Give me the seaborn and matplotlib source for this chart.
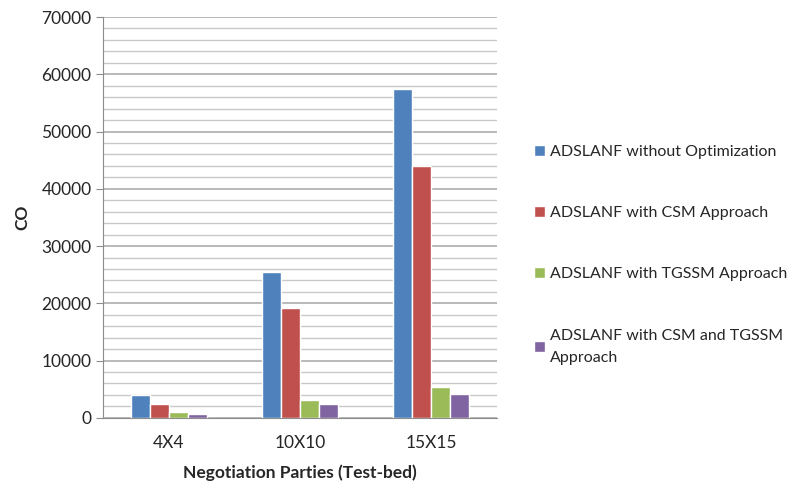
import numpy as np
import pandas as pd
import matplotlib.pyplot as plt
import seaborn as sns

# Datos
partes = ["4X4", "10X10", "15X15"]
sin_opt = [4000, 25500, 57500]
con_csm = [2500, 19100, 44000]
con_tgssm = [1000, 3200, 5400]
con_csm_tgssm = [600, 2400, 4100]

series = [
    "ADSLANF without Optimization",
    "ADSLANF with CSM Approach",
    "ADSLANF with TGSSM Approach",
    "ADSLANF with CSM and TGSSM\nApproach",
]
colores = ["#4F81BD", "#C0504D", "#9BBB59", "#8064A2"]

df = pd.DataFrame({
    "partes": partes * 4,
    "serie": np.repeat(series, len(partes)),
    "CO": sin_opt + con_csm + con_tgssm + con_csm_tgssm,
})

sns.set_style("white")
plt.rcParams["font.family"] = ["Lato", "DejaVu Sans"]

fig = plt.figure(figsize=(7.95, 4.87), dpi=100)
ax = fig.add_axes([0.13, 0.142, 0.495, 0.823])

sns.barplot(data=df, x="partes", y="CO", hue="serie", palette=colores,
            width=0.58, saturation=1, ax=ax, legend=True)

ax.set_ylim(0, 70000)
ax.set_yticks(np.arange(0, 70001, 10000))
ax.set_yticks(np.arange(0, 70001, 2000), minor=True)
ax.grid(True, axis="y", which="major", color="#a6a6a6", linewidth=1.1)
ax.grid(True, axis="y", which="minor", color="#c8c8c8", linewidth=1.0)
ax.set_axisbelow(True)

for s in ["top", "right"]:
    ax.spines[s].set_visible(False)
ax.spines["left"].set_color("#8c8c8c")
ax.spines["bottom"].set_color("#8c8c8c")
ax.tick_params(axis="y", which="major", length=5, color="#8c8c8c", labelsize=12.5, left=True)
ax.tick_params(axis="y", which="minor", length=0)
ax.tick_params(axis="x", length=0, labelsize=12.5, pad=12)

ax.set_xlabel("Negotiation Parties (Test-bed)", fontsize=12.5, fontweight="bold", labelpad=10)
ax.set_ylabel("CO", fontsize=12.5, fontweight="bold", labelpad=8)

h, l = ax.get_legend_handles_labels()
ax.get_legend().remove()
leg = fig.legend(h, l, loc="center left", bbox_to_anchor=(0.653, 0.477), frameon=False,
                 fontsize=11.5, handlelength=0.7, handleheight=0.7, handletextpad=0.35,
                 labelspacing=2.95)
for t in leg.get_texts():
    t.set_linespacing(1.75)

plt.savefig("out.png", dpi=100)
